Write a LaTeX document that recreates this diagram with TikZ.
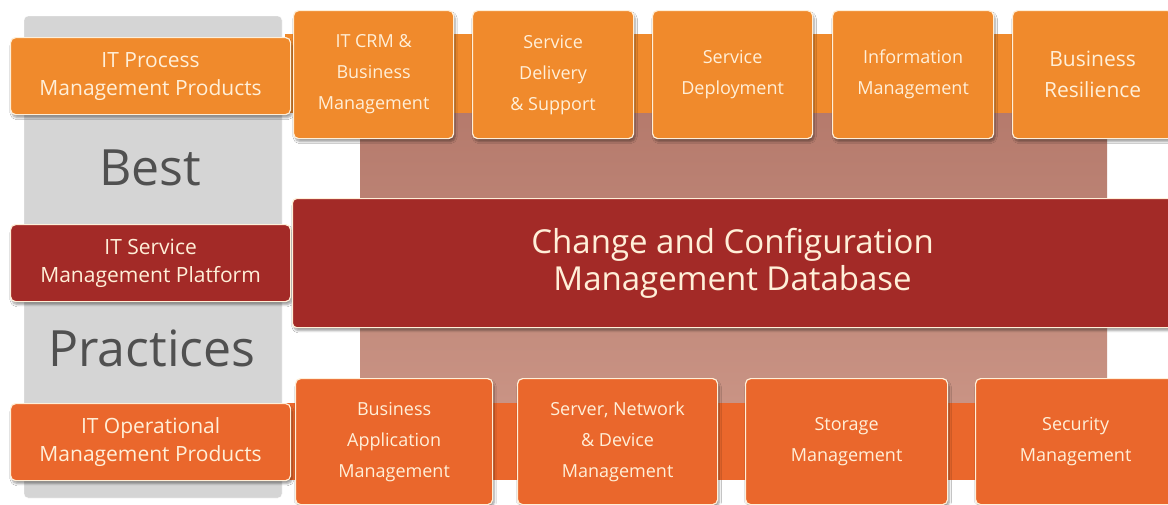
\documentclass[tikz,border=0pt]{standalone}
\usepackage{fontspec}
\setmainfont{Open Sans}
\usetikzlibrary{shadows.blur}
\definecolor{orT}{HTML}{F08A2C}
\definecolor{orB}{HTML}{EA672C}
\definecolor{dred}{HTML}{A32A27}
\definecolor{cream}{HTML}{FFEFD8}
\definecolor{grayc}{HTML}{D5D5D5}
\definecolor{brT}{HTML}{B57A6C}
\definecolor{brB}{HTML}{C99384}
\definecolor{txtg}{HTML}{505050}
\tikzset{
  boxbase/.style={rounded corners=5pt, draw=cream, line width=1.2pt, text=cream,
    align=center, inner sep=0pt, anchor=north west,
    blur shadow={shadow xshift=1.5pt, shadow yshift=-3pt, shadow blur steps=6, shadow opacity=40}},
  topbox/.style={boxbase, fill=orT, font=\fontsize{18}{31}\selectfont},
  botbox/.style={boxbase, fill=orB, font=\fontsize{18}{31}\selectfont},
  leftbox/.style={boxbase, font=\fontsize{21}{28}\selectfont, minimum width=280pt, minimum height=77pt},
  bigword/.style={text=txtg, font=\fontsize{50}{50}\selectfont, inner sep=0pt},
}
\begin{document}
\begin{tikzpicture}[x=1pt,y=-1pt]
\useasboundingbox (0,0) rectangle (1168,504);
\fill[white] (0,0) rectangle (1168,504);
% gray column
\draw[fill=grayc, draw=white, rounded corners=4pt] (24,16) rectangle (282,498);
% brown background
\shade[top color=brT, bottom color=brB] (360,110) rectangle (1107,402);
% bands
\fill[orT] (285,34) rectangle (1168,113);
\fill[orB] (285,403) rectangle (1168,480);
% big words
\node[bigword] (best) at (150,168) {Best};
\node[bigword] (practices) at (152,348) {Practices};
% left labels
\node[leftbox, fill=orT] (ipm) at (10,37) {IT Process\\Management Products};
\node[leftbox, fill=dred] (itsm) at (10,224) {IT Service\\Management Platform};
\node[leftbox, fill=orB] (iom) at (10,403) {IT Operational\\Management Products};
% CMDB
\node[boxbase, fill=dred, rounded corners=4pt, minimum width=880pt, minimum height=129pt,
  font=\fontsize{33}{37}\selectfont] (cmdb) at (292,198) {Change and Configuration\\Management Database};
% top boxes
\node[topbox, minimum width=160pt, minimum height=128pt] (t1) at (293,10) {IT CRM \&\\Business\\Management};
\node[topbox, minimum width=161pt, minimum height=128pt] (t2) at (472,10) {Service\\Delivery\\\& Support};
\node[topbox, minimum width=160pt, minimum height=128pt] (t3) at (652,10) {Service\\Deployment};
\node[topbox, minimum width=161pt, minimum height=128pt] (t4) at (832,10) {Information\\Management};
\node[topbox, minimum width=160pt, minimum height=128pt, font=\fontsize{21}{31}\selectfont] (t5) at (1012,10) {Business\\Resilience};
% bottom boxes
\node[botbox, minimum width=197pt, minimum height=126pt] (b1) at (295,378) {Business\\Application\\Management};
\node[botbox, minimum width=200pt, minimum height=126pt] (b2) at (517,378) {Server, Network\\\& Device\\Management};
\node[botbox, minimum width=202pt, minimum height=126pt] (b3) at (745,378) {Storage\\Management};
\node[botbox, minimum width=200pt, minimum height=126pt] (b4) at (975,378) {Security\\Management};
\end{tikzpicture}
\end{document}
